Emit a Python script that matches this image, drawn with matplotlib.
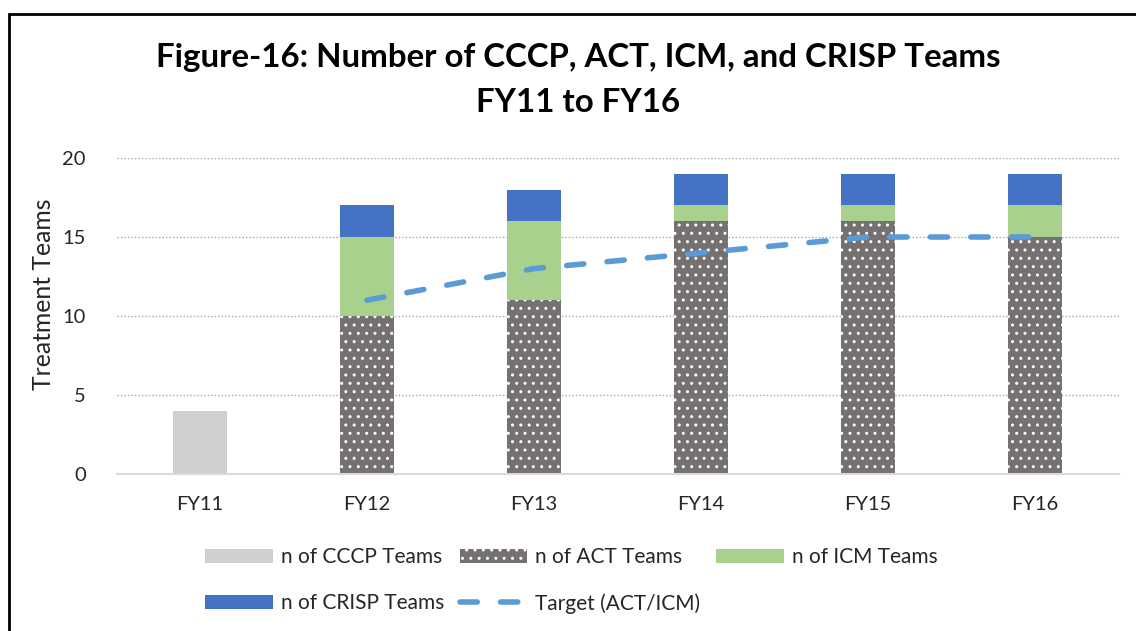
import matplotlib
matplotlib.use("Agg")
import matplotlib.pyplot as plt
import numpy as np
from matplotlib.patches import Rectangle
from matplotlib.lines import Line2D

plt.rcParams['font.family'] = ['Lato', 'DejaVu Sans']

years = ["FY11", "FY12", "FY13", "FY14", "FY15", "FY16"]
cccp = [4, 0, 0, 0, 0, 0]
act = [0, 10, 11, 16, 16, 15]
icm = [0, 5, 5, 1, 1, 2]
crisp = [0, 2, 2, 2, 2, 2]
target = [np.nan, 11, 13, 14, 15, 15]

W, H = 1136, 631
fig = plt.figure(figsize=(W / 100, H / 100), dpi=100)
ax = fig.add_axes([116.5 / W, 1 - 474 / H, (1118.5 - 116.5) / W, (474 - 158) / H])

x = np.arange(len(years))
bw = 0.32
c_cccp, c_act, c_icm, c_crisp, c_tgt = "#D0CECE", "#767171", "#A9D18E", "#4472C4", "#5B9BD5"
tlw = 4.0
tdash = (3.1, 4.2)

ax.bar(x, cccp, bw, color=c_cccp, zorder=2)
ax.bar(x, act, bw, color=c_act, edgecolor="white", linewidth=0, hatch="..", zorder=2)
b1 = np.array(act)
ax.bar(x, icm, bw, bottom=b1, color=c_icm, zorder=2)
b2 = b1 + np.array(icm)
ax.bar(x, crisp, bw, bottom=b2, color=c_crisp, zorder=2)
ax.plot(x, target, color=c_tgt, lw=tlw, dashes=tdash, dash_capstyle="round", zorder=3)

ax.set_xlim(-0.5, 5.5)
ax.set_ylim(0, 20)
ax.set_yticks([0, 5, 10, 15, 20])
ax.set_xticks(x)
ax.set_xticklabels(years)
ax.tick_params(axis="both", length=0, labelsize=14.5, labelcolor="#262626")
ax.tick_params(axis="x", pad=16)
ax.tick_params(axis="y", pad=22)
for s in ["top", "right", "left"]:
    ax.spines[s].set_visible(False)
ax.spines["bottom"].set_color("#D9D9D9")
ax.spines["bottom"].set_linewidth(1.5)
ax.yaxis.grid(True, color="#A6A6A6", linestyle=(0, (1, 1.5)), linewidth=1)
ax.set_axisbelow(True)
fig.text(43.5 / W, 1 - 294 / H, "Treatment Teams", rotation=90, ha="center", va="center",
         fontsize=17.8, color="#262626")

fig.text(578 / W, 1 - 58 / H, "Figure-16: Number of CCCP, ACT, ICM, and CRISP Teams",
         ha="center", va="center", fontsize=23.8, fontweight="bold", color="black")
fig.text(578 / W, 1 - 103 / H, "FY11 to FY16",
         ha="center", va="center", fontsize=23.8, fontweight="bold", color="black")

# legend
h_cccp = Rectangle((0, 0), 1, 1, facecolor=c_cccp)
h_act = Rectangle((0, 0), 1, 1, facecolor=c_act, edgecolor="white", linewidth=0, hatch="..")
h_icm = Rectangle((0, 0), 1, 1, facecolor=c_icm)
h_crisp = Rectangle((0, 0), 1, 1, facecolor=c_crisp)
h_tgt = Line2D([], [], color=c_tgt, lw=tlw, dashes=tdash, dash_capstyle="round")
handles = [h_cccp, h_crisp, h_act, h_tgt, h_icm]
labels = ["n of CCCP Teams", "n of CRISP Teams", "n of ACT Teams", "Target (ACT/ICM)", "n of ICM Teams"]
leg = fig.legend(handles, labels, ncol=3, loc="upper left",
                 bbox_to_anchor=(205 / W, 1 - 547 / H), frameon=False,
                 fontsize=15, handlelength=3.25, handleheight=0.67, handletextpad=0.38,
                 columnspacing=0.75, labelspacing=1.25, borderpad=0, borderaxespad=0)
for t in leg.get_texts():
    t.set_color("#262626")

# border (top and left edges visible; right/bottom run off the canvas)
border = Rectangle((8.5 / W, -0.1), 2, (1 - 13.5 / H) + 0.1, transform=fig.transFigure,
                   fill=False, edgecolor="black", linewidth=2)
fig.patches.append(border)

fig.savefig("out.png", dpi=100)
